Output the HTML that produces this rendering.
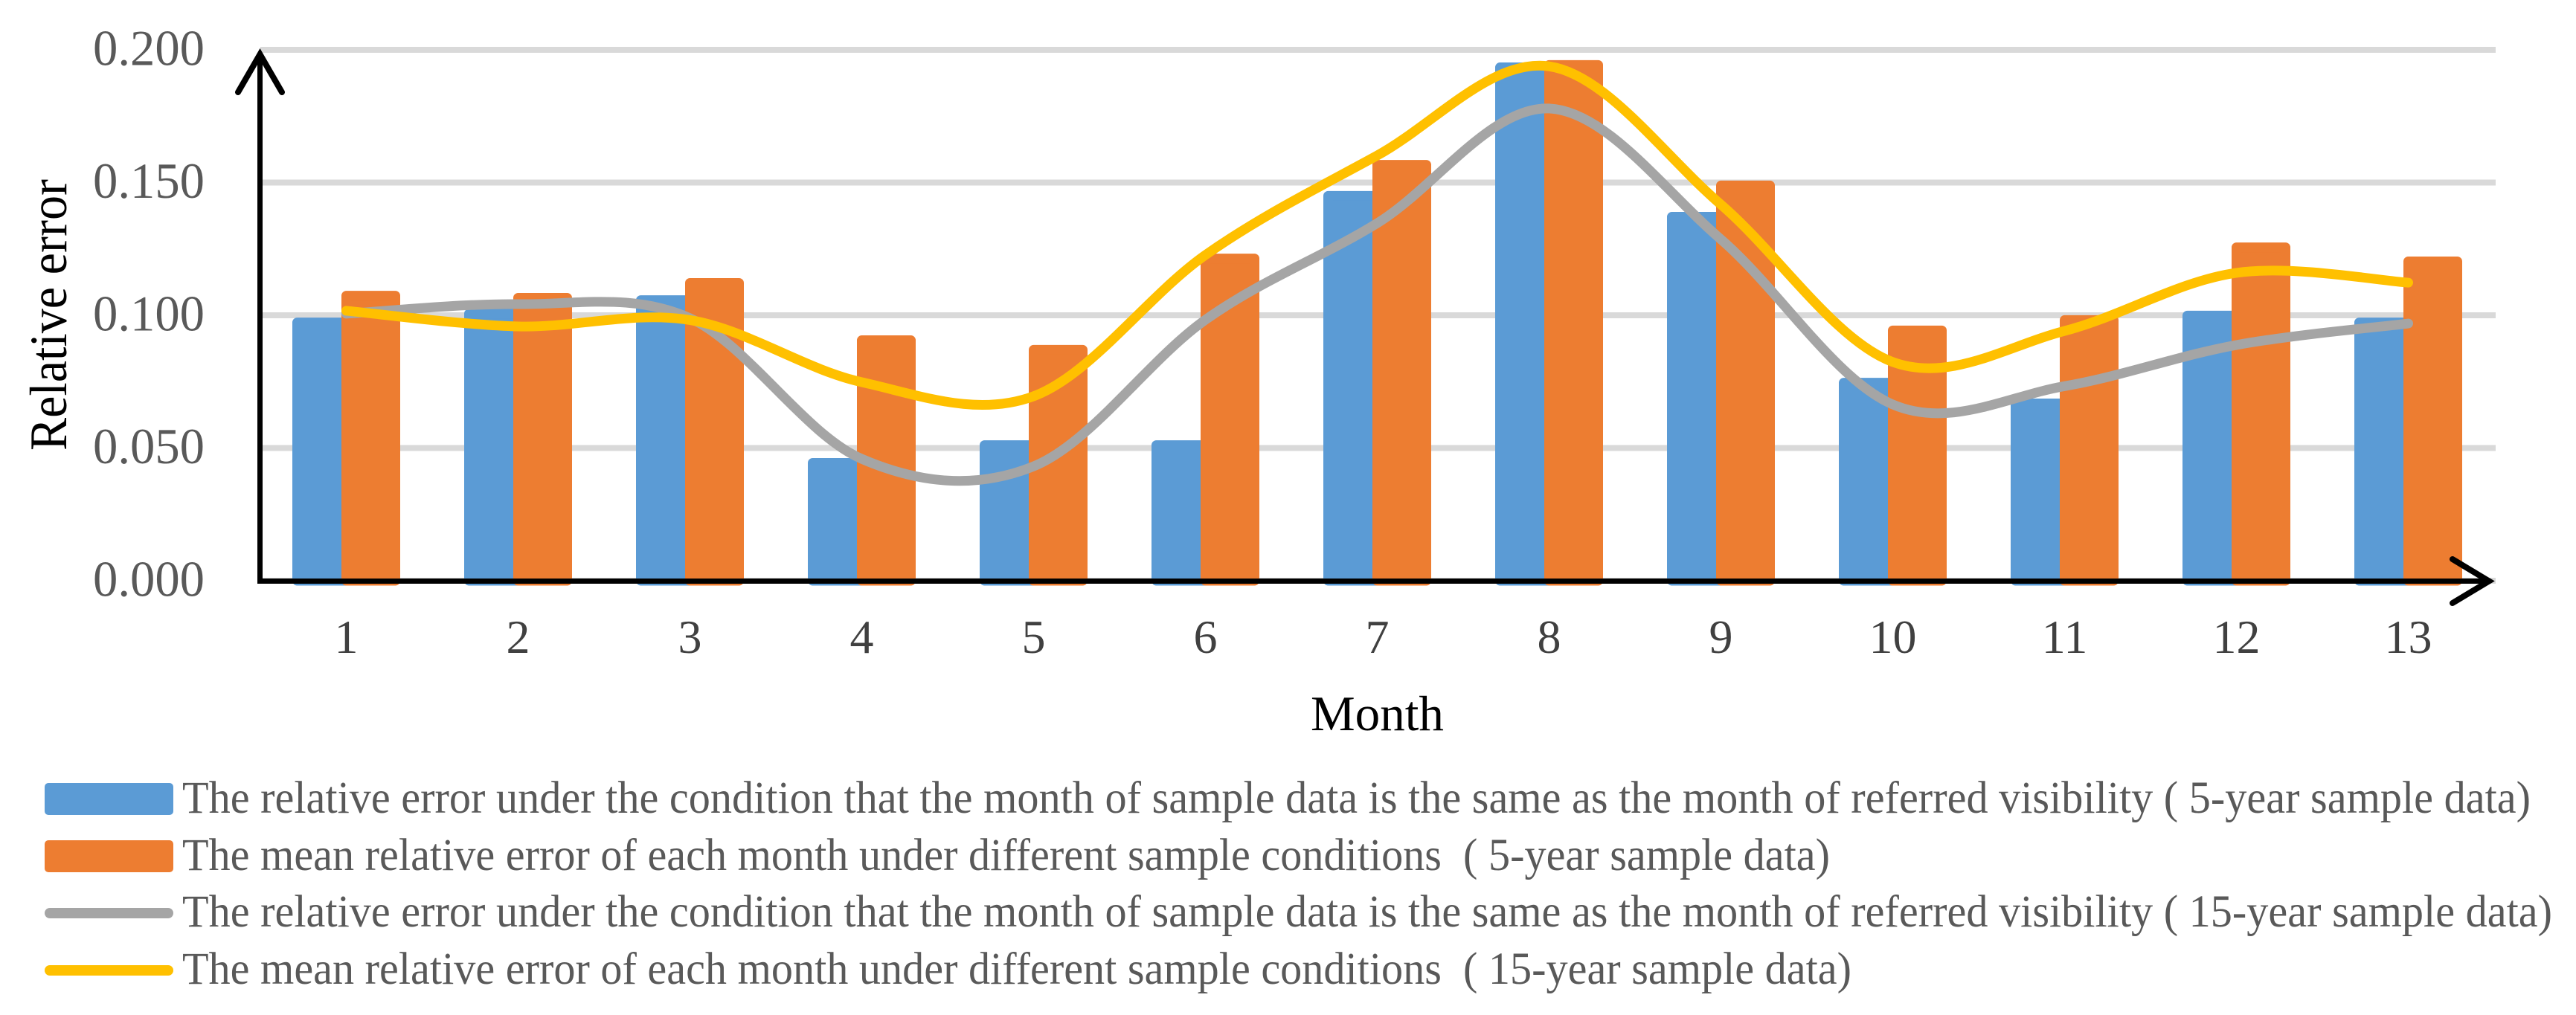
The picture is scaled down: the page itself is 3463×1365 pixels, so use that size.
<!DOCTYPE html>
<html>
<head>
<meta charset="utf-8">
<title>Relative error by month</title>
<style>
html,body{margin:0;padding:0;background:#fff;}
svg{display:block;}
text{font-family:"Liberation Serif",serif;white-space:pre;}
</style>
</head>
<body>
<svg id="chart" xmlns="http://www.w3.org/2000/svg" width="3463" height="1365" viewBox="0 0 3463 1365">
  <rect x="0" y="0" width="3463" height="1365" fill="#ffffff"/>
  <g id="grid"></g>
  <g id="bars"></g>
  <g id="axes">
    <path d="M349.5 785 V75" fill="none" stroke="#000" stroke-width="7"/>
    <path d="M320 124 L349.5 73 L379 124" fill="none" stroke="#000" stroke-width="8" stroke-linecap="round" stroke-linejoin="miter" stroke-miterlimit="6"/>
    <path d="M346 781.5 H3345" fill="none" stroke="#000" stroke-width="7"/>
    <path d="M3297 752 L3346 781.5 L3297 811" fill="none" stroke="#000" stroke-width="8" stroke-linecap="round" stroke-linejoin="miter" stroke-miterlimit="6"/>
  </g>
  <g id="lines"></g>
  <g id="ylabels"></g>
  <g id="xlabels"></g>
  <text transform="translate(89,606) rotate(-90)" font-size="71" fill="#000" textLength="365" lengthAdjust="spacingAndGlyphs">Relative error</text>
  <text x="1762" y="982" font-size="67" fill="#000" textLength="179" lengthAdjust="spacingAndGlyphs">Month</text>
  <g>
    <g>
      <rect x="60" y="1053" width="173" height="43" rx="5" fill="#5b9bd5"/>
      <text x="245" y="1093" font-size="61" fill="#595959" textLength="3157" lengthAdjust="spacingAndGlyphs" xml:space="preserve">The relative error under the condition that the month of sample data is the same as the month of referred visibility ( 5-year sample data)</text>
    </g>
    <g>
      <rect x="60" y="1130" width="173" height="43" rx="5" fill="#ed7d31"/>
      <text x="245" y="1170" font-size="61" fill="#595959" textLength="2215" lengthAdjust="spacingAndGlyphs" xml:space="preserve">The mean relative error of each month under different sample conditions  ( 5-year sample data)</text>
    </g>
    <g>
      <rect x="60" y="1221" width="173" height="14" rx="7" fill="#a5a5a5"/>
      <text x="245" y="1246" font-size="61" fill="#595959" textLength="3186" lengthAdjust="spacingAndGlyphs" xml:space="preserve">The relative error under the condition that the month of sample data is the same as the month of referred visibility ( 15-year sample data)</text>
    </g>
    <g>
      <rect x="60" y="1298" width="173" height="14" rx="7" fill="#ffc000"/>
      <text x="245" y="1323" font-size="61" fill="#595959" textLength="2244" lengthAdjust="spacingAndGlyphs" xml:space="preserve">The mean relative error of each month under different sample conditions  ( 15-year sample data)</text>
    </g>
  </g>
</svg>
<script>
const categories = ['1','2','3','4','5','6','7','8','9','10','11','12','13'];
const yTicks = [0, 0.05, 0.1, 0.15, 0.2];
const yTickLabels = ['0.000','0.050','0.100','0.150','0.200'];
const blueBars = [0.0973,0.1006,0.1057,0.0444,0.0511,0.0511,0.1450,0.1934,0.1371,0.0746,0.0668,0.0999,0.0973];
const orangeBars = [0.1074,0.1066,0.1122,0.0906,0.0870,0.1214,0.1567,0.1943,0.1489,0.0943,0.0982,0.1256,0.1203];
const grayLine = [0.1006,0.1042,0.0989,0.0459,0.0431,0.0983,0.1347,0.1779,0.1286,0.0664,0.0733,0.0888,0.0969];
const yellowLine = [0.1017,0.0958,0.0982,0.0748,0.0695,0.1227,0.1602,0.1938,0.1417,0.0824,0.0941,0.1160,0.1123];

const SVGNS = 'http://www.w3.org/2000/svg';
const plotLeft = 350, catWidth = 231, baseY = 781, yScale = 3570;
const barW = 79, barStroke = 13;
const xCenter = function (i) { return plotLeft + catWidth * (i + 0.5); };
const yPos = function (v) { return baseY - v * yScale; };
const make = function (tag, parentId) {
  const el = document.createElementNS(SVGNS, tag);
  document.getElementById(parentId).appendChild(el);
  return el;
};

yTicks.forEach(function (t, i) {
  const g = make('rect', 'grid');
  
  
  g.setAttribute('x', plotLeft);
  g.setAttribute('y', yPos(t) - 4);
  g.setAttribute('width', 3355 - plotLeft);
  g.setAttribute('height', 8);
  g.setAttribute('fill', '#d9d9d9');

  const l = make('text', 'ylabels');
  
  
  l.setAttribute('x', 125);
  l.setAttribute('y', yPos(t) + 20.5);
  l.setAttribute('font-size', '68');
  l.setAttribute('fill', '#595959');
  l.setAttribute('textLength', '150');
  l.setAttribute('lengthAdjust', 'spacingAndGlyphs');
  l.textContent = yTickLabels[i];
});

function drawBar(v, x, color, name) {
  const r = make('rect', 'bars');
  
  
  r.setAttribute('x', x + barStroke / 2);
  r.setAttribute('y', yPos(v));
  r.setAttribute('width', barW - barStroke);
  r.setAttribute('height', baseY - yPos(v));
  r.setAttribute('fill', color);
  r.setAttribute('stroke', color);
  r.setAttribute('stroke-width', barStroke);
  r.setAttribute('stroke-linejoin', 'round');
}

categories.forEach(function (c, i) {
  const cx = xCenter(i);
  drawBar(blueBars[i], cx - 72.5, '#5b9bd5', 'bar-blue');
});
categories.forEach(function (c, i) {
  const cx = xCenter(i);
  drawBar(orangeBars[i], cx - 6.5, '#ed7d31', 'bar-orange');

  const l = make('text', 'xlabels');
  
  
  l.setAttribute('x', cx);
  l.setAttribute('y', 878);
  l.setAttribute('font-size', '64');
  l.setAttribute('fill', '#404040');
  l.setAttribute('text-anchor', 'middle');
  l.textContent = c;
});

function smoothPath(values) {
  const p = values.map(function (v, i) { return [xCenter(i), yPos(v)]; });
  let d = 'M' + p[0][0] + ' ' + p[0][1];
  for (let i = 0; i < p.length - 1; i++) {
    const p0 = p[Math.max(i - 1, 0)], p1 = p[i], p2 = p[i + 1], p3 = p[Math.min(i + 2, p.length - 1)];
    const c1x = p1[0] + (p2[0] - p0[0]) / 6, c1y = p1[1] + (p2[1] - p0[1]) / 6;
    const c2x = p2[0] - (p3[0] - p1[0]) / 6, c2y = p2[1] - (p3[1] - p1[1]) / 6;
    d += ' C' + c1x + ' ' + c1y + ' ' + c2x + ' ' + c2y + ' ' + p2[0] + ' ' + p2[1];
  }
  return d;
}

const grayPath = make('path', 'lines');


grayPath.setAttribute('d', smoothPath(grayLine));
grayPath.setAttribute('fill', 'none');
grayPath.setAttribute('stroke', '#a5a5a5');
grayPath.setAttribute('stroke-width', '13');
grayPath.setAttribute('stroke-linecap', 'round');

const yellowPath = make('path', 'lines');


yellowPath.setAttribute('d', smoothPath(yellowLine));
yellowPath.setAttribute('fill', 'none');
yellowPath.setAttribute('stroke', '#ffc000');
yellowPath.setAttribute('stroke-width', '13');
yellowPath.setAttribute('stroke-linecap', 'round');
</script>
</body>
</html>
